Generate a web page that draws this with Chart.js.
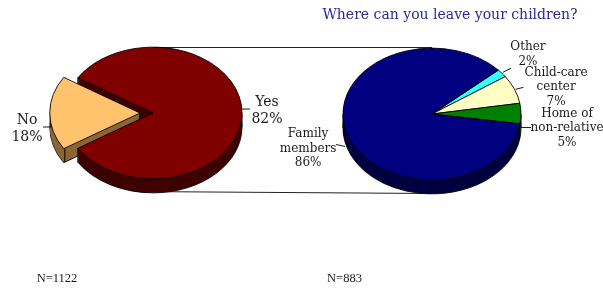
<!DOCTYPE html>
<html><head><meta charset="utf-8">
<script src="https://cdn.jsdelivr.net/npm/chart.js@4/dist/chart.umd.min.js"></script>
<style>
html,body{margin:0;padding:0;background:#fff;overflow:hidden}
#wrap{position:relative;width:603px;height:289px;background:#fff}
canvas{position:absolute;left:0;top:0}
</style></head><body>
<div id="wrap"><canvas id="c1" width="603" height="289"></canvas><canvas id="c2" width="603" height="289"></canvas></div>
<script>
// ---------- data ----------
const titleText = 'Where can you leave your children?';
const leftCategories = [['No'], ['Yes']];
const leftValues = [18, 82];
const leftN = 'N=1122';
const rightCategories = [['Other'], ['Child-care', 'center'], ['Home of', 'non-relative'], ['Family', 'members']];
const rightValues = [2, 7, 5, 86];
const rightN = 'N=883';

// ---------- style ----------
const TILT = 0.74, DEPTH = 14, R = 89;
const leftTop = ['#ffc36e', '#800000'];
const leftSide = ['#8c6536', '#3f0000'];
const rightTop = ['#33ffff', '#ffffc4', '#008000', '#000080'];
const rightSide = ['#1a8080', '#80805f', '#004000', '#000040'];
const leftOffsets = [52, 0];
// label layout: leader [x0,y0,x1,y1] and text centre offsets relative to rim point at slice mid-angle
const leftLabelLayout = [
  {lead: [1, 14, -8, 14], tx: -24, ty: 7},
  {lead: [0, -4, 8, -4], tx: 25, ty: -11}
];
const rightLabelLayout = [
  {lead: [1, -1, 9, -5], tx: 26, ty: -26},
  {lead: [1, 0, 9, -2], tx: 41.5, ty: -16.5},
  {lead: [-1, 14, 10, 14], tx: 46, ty: 0},
  {lead: [-1.6, 13.7, -10.6, 11.7], tx: -38.6, ty: 1.2}
];
const LBL_FONT = 'DejaVu Serif';

function squash(ctx, cx, cy, k) {
  ctx.translate(cx, cy); ctx.scale(1, k); ctx.translate(-cx, -cy);
}
function inSlice(a, s, e) {
  const T = Math.PI * 2;
  let x = a;
  while (x < s) x += T;
  while (x > s + T) x -= T;
  return x >= s && x <= e;
}

const pie3d = {
  id: 'pie3d',
  beforeDatasetsDraw(chart, args, opts) {
    const ctx = chart.ctx;
    const meta = chart.getDatasetMeta(0);
    const cx = meta.data[0].x, cy = meta.data[0].y;
    const n = meta.data.length;
    if (opts.before) opts.before(chart, ctx);
    for (let d = DEPTH; d >= 1; d--) {
      meta.data.forEach((el, i) => {
        const o = el.options;
        el.options = Object.assign({}, o, {
          backgroundColor: opts.side[i],
          borderColor: '#000',
          borderWidth: d === DEPTH ? 1 : 0
        });
        ctx.save();
        ctx.translate(0, d);
        squash(ctx, cx, cy, TILT);
        el.draw(ctx);
        ctx.restore();
        el.options = o;
      });
    }
    // vertical side edges (hidden ones get covered by the top faces)
    ctx.save();
    ctx.strokeStyle = '#000';
    ctx.lineWidth = 1;
    ctx.beginPath();
    meta.data.forEach((el, i) => {
      const off = (el.options.offset || 0) / 4;
      const mid = (el.startAngle + el.endAngle) / 2;
      const ox = el.x + Math.cos(mid) * off;
      const oy = el.y + Math.sin(mid) * off * TILT;
      const prevOff = meta.data[(i - 1 + n) % n].options.offset || 0;
      const nextOff = meta.data[(i + 1) % n].options.offset || 0;
      const angles = [];
      if (off > 0 || prevOff > 0) angles.push(el.startAngle);
      if (off > 0 || nextOff > 0) angles.push(el.endAngle);
      [0, Math.PI].forEach(a => { if (inSlice(a, el.startAngle, el.endAngle)) angles.push(a); });
      angles.forEach(a => {
        const x = ox + Math.cos(a) * R;
        const y = oy + Math.sin(a) * R * TILT;
        ctx.moveTo(x, y); ctx.lineTo(x, y + DEPTH);
      });
      if (off > 0) { ctx.moveTo(ox, oy); ctx.lineTo(ox, oy + DEPTH); }
    });
    ctx.stroke();
    ctx.restore();
    ctx.save();
    squash(ctx, cx, cy, TILT);
  },
  afterDatasetsDraw(chart, args, opts) {
    const ctx = chart.ctx;
    ctx.restore();
    const meta = chart.getDatasetMeta(0);
    const labels = chart.data.labels;
    const vals = chart.data.datasets[0].data;
    ctx.save();
    ctx.fillStyle = '#1a1a1a';
    ctx.strokeStyle = '#1a1a1a';
    ctx.lineWidth = 1;
    ctx.textAlign = 'center';
    ctx.textBaseline = 'middle';
    meta.data.forEach((el, i) => {
      const lay = opts.layout[i];
      const mid = (el.startAngle + el.endAngle) / 2;
      const sh = (el.options.offset || 0) / 4;
      const px = el.x + Math.cos(mid) * (R + sh);
      const py = el.y + Math.sin(mid) * (R + sh) * TILT;
      ctx.beginPath();
      ctx.moveTo(px + lay.lead[0], py + lay.lead[1]);
      ctx.lineTo(px + lay.lead[2], py + lay.lead[3]);
      ctx.stroke();
      const lines = labels[i].concat([vals[i] + '%']);
      const fs = opts.fontSize;
      const lh = opts.lineHeight;
      ctx.font = fs + 'px "' + LBL_FONT + '"';
      lines.forEach((t, j) => {
        ctx.fillText(t, px + lay.tx, py + lay.ty + j * lh);
      });
    });
    ctx.restore();
    if (opts.after) opts.after(chart, ctx);
  }
};

function baseOptions(rotation, padding, layout, fontSize, lineHeight, before, after, side) {
  return {
    responsive: false,
    animation: false,
    events: [],
    rotation: rotation,
    radius: R,
    layout: {padding: padding},
    plugins: {
      legend: {display: false},
      tooltip: {enabled: false},
      pie3d: {layout, fontSize, lineHeight, before, after, side}
    }
  };
}

new Chart(document.getElementById('c1'), {
  type: 'pie',
  data: {
    labels: leftCategories,
    datasets: [{data: leftValues, backgroundColor: leftTop, borderColor: '#000', borderWidth: 1, offset: leftOffsets, clip: false}]
  },
  plugins: [pie3d],
  options: baseOptions(237.6, {left: 10, right: 307, top: 10, bottom: 73}, leftLabelLayout, 14, 17.5,
    (chart, ctx) => {
      // connector lines between the two pies (drawn behind)
      ctx.save();
      ctx.strokeStyle = '#222';
      ctx.lineWidth = 1;
      ctx.beginPath();
      ctx.moveTo(153, 47.5); ctx.lineTo(432, 47.5);
      ctx.moveTo(135, 191.5); ctx.lineTo(432, 193.5);
      ctx.stroke();
      ctx.restore();
    },
    (chart, ctx) => {
      ctx.save();
      ctx.fillStyle = '#1a1a1a';
      ctx.font = '12.5px "Liberation Serif"';
      ctx.textAlign = 'center';
      ctx.textBaseline = 'middle';
      ctx.fillText(leftN, 57, 279);
      ctx.restore();
    }, leftSide)
});

new Chart(document.getElementById('c2'), {
  type: 'pie',
  data: {
    labels: rightCategories,
    datasets: [{data: rightValues, backgroundColor: rightTop, borderColor: '#000', borderWidth: 1, clip: false}]
  },
  plugins: [pie3d],
  options: baseOptions(48.2, {left: 300, right: 39, top: 10, bottom: 71}, rightLabelLayout, 12, 14.5,
    null,
    (chart, ctx) => {
      ctx.save();
      ctx.fillStyle = '#2a2a9a';
      ctx.font = '14px "DejaVu Serif"';
      ctx.textAlign = 'center';
      ctx.textBaseline = 'middle';
      ctx.fillText(titleText, 450, 15);
      ctx.fillStyle = '#1a1a1a';
      ctx.font = '12.5px "Liberation Serif"';
      ctx.fillText(rightN, 344.5, 279);
      ctx.restore();
    }, rightSide)
});
</script>
</body></html>
